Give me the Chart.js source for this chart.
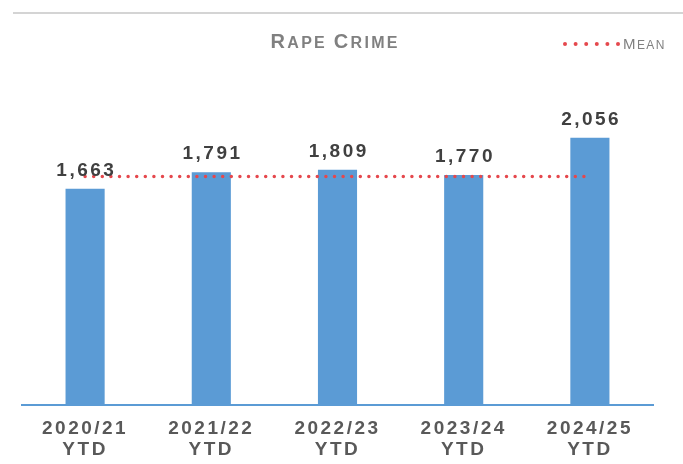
<!DOCTYPE html>
<html><head><meta charset="utf-8">
<script src="https://cdn.jsdelivr.net/npm/chart.js@4/dist/chart.umd.min.js"></script>
<style>html,body{margin:0;padding:0;background:#fff;}#wrap{width:683px;height:464px;}</style>
</head><body><div id="wrap"><canvas id="c" width="683" height="464"></canvas></div>
<script>
const categories = [['2020/21','YTD'],['2021/22','YTD'],['2022/23','YTD'],['2023/24','YTD'],['2024/25','YTD']];
const crimeValues = [1663, 1791, 1809, 1770, 2056];
const meanValues = [1758, 1758, 1758, 1758, 1758];
const chartTitle = 'Rape Crime';
const meanLabel = 'Mean';

const FONT = 'Arial, "Liberation Sans", sans-serif';
const BLUE = '#5B9BD5';
const RED = '#E5484D';

function drawSpaced(ctx, text, x, y, spacing, align) {
  let total = 0;
  const ws = [];
  for (const ch of text) { const w = ctx.measureText(ch).width; ws.push(w); total += w; }
  total += spacing * (ws.length - 1);
  let cx = align === 'center' ? x - total / 2 : (align === 'right' ? x - total : x);
  ctx.textAlign = 'left';
  let i = 0;
  for (const ch of text) { ctx.fillText(ch, cx, y); cx += ws[i++] + spacing; }
}

function drawSmallCaps(ctx, text, x, y, big, small, weight, spacing, align, color) {
  const parts = [];
  for (const ch of text) {
    const isBig = ch === ch.toUpperCase() && ch !== ' ';
    parts.push({ ch: ch.toUpperCase(), size: isBig ? big : small });
  }
  let total = 0;
  parts.forEach(p => { ctx.font = `${weight} ${p.size}px ${FONT}`; p.w = ctx.measureText(p.ch).width; total += p.w; });
  total += spacing * (parts.length - 1);
  let cx = align === 'center' ? x - total / 2 : x;
  ctx.fillStyle = color; ctx.textAlign = 'left'; ctx.textBaseline = 'alphabetic';
  parts.forEach(p => { ctx.font = `${weight} ${p.size}px ${FONT}`; ctx.fillText(p.ch, cx, y); cx += p.w + spacing; });
  return cx;
}

const decor = {
  id: 'decor',
  beforeDraw(chart) {
    const ctx = chart.ctx;
    ctx.save();
    ctx.fillStyle = '#fff'; ctx.fillRect(0, 0, chart.width, chart.height);
    ctx.strokeStyle = '#d4d4d4'; ctx.lineWidth = 2;
    ctx.beginPath(); ctx.moveTo(13, 13); ctx.lineTo(chart.width, 13); ctx.stroke();
    ctx.restore();
    if ('letterSpacing' in ctx) ctx.letterSpacing = '2.5px';
  },
  afterDatasetsDraw(chart) {
    const ctx = chart.ctx;
    ctx.save();
    if ('letterSpacing' in ctx) ctx.letterSpacing = '0px';
    const meta = chart.getDatasetMeta(0);
    ctx.font = `bold 19px ${FONT}`;
    ctx.fillStyle = '#404040';
    ctx.textBaseline = 'alphabetic';
    meta.data.forEach((bar, i) => {
      drawSpaced(ctx, crimeValues[i].toLocaleString('en-GB'), bar.x, bar.y - 13, 2.5, 'center');
    });
    ctx.restore();
  },
  afterDraw(chart) {
    const ctx = chart.ctx;
    ctx.save();
    if ('letterSpacing' in ctx) ctx.letterSpacing = '0px';
    drawSmallCaps(ctx, chartTitle, 334, 48, 20, 16, 'bold', 2.3, 'center', '#808080');
    // legend
    ctx.fillStyle = RED;
    for (let i = 0; i < 6; i++) { ctx.beginPath(); ctx.arc(565 + i * 10.6, 44, 2, 0, Math.PI * 2); ctx.fill(); }
    drawSmallCaps(ctx, meanLabel, 623, 49, 15, 12, 'normal', 1.4, 'left', '#808080');
    ctx.restore();
  }
};

new Chart(document.getElementById('c'), {
  data: {
    labels: categories,
    datasets: [
      { type: 'bar', label: 'Rape Crime', data: crimeValues, backgroundColor: BLUE, borderWidth: 0,
        barPercentage: 0.31, categoryPercentage: 1, order: 1 },
      { type: 'line', label: meanLabel, data: meanValues, borderColor: RED, borderWidth: 3.5,
        borderDash: [0, 8.6], borderCapStyle: 'round', pointRadius: 0, fill: false, order: 0 }
    ]
  },
  options: {
    responsive: false,
    devicePixelRatio: 1,
    animation: false,
    layout: { padding: { left: 22, right: 30, top: 93, bottom: 0 } },
    plugins: { legend: { display: false }, tooltip: { enabled: false }, title: { display: false } },
    scales: {
      x: {
        grid: { display: false, drawTicks: false },
        border: { display: true, color: BLUE, width: 2 },
        ticks: { color: '#595959', font: { family: FONT, size: 19, weight: 'bold', lineHeight: 1.1 },
                 padding: 13, autoSkip: false, maxRotation: 0 },
        afterFit(s) { s.height = 59; }
      },
      y: { display: false, min: 0, max: 2400 }
    }
  },
  plugins: [decor]
});
</script></body></html>
